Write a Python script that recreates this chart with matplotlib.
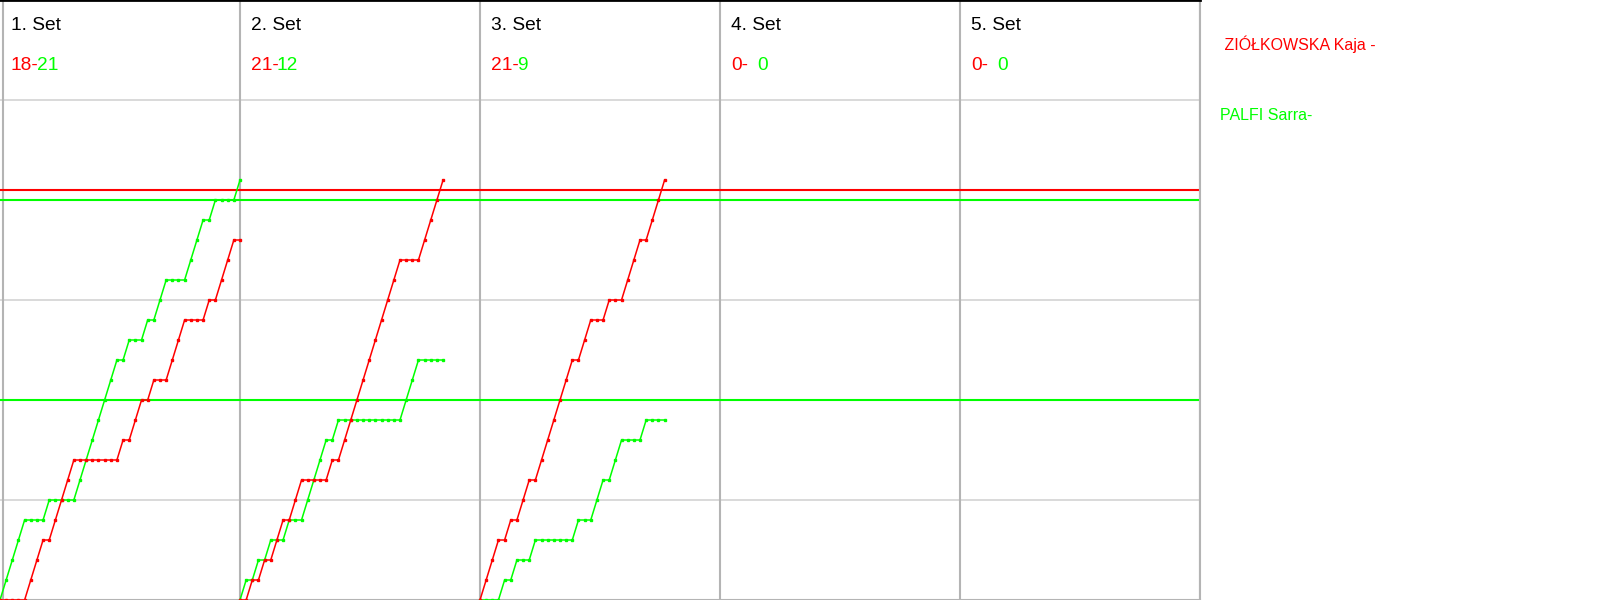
import numpy as np
import matplotlib
matplotlib.use("Agg")
import matplotlib.pyplot as plt

plt.rcParams['font.family'] = ['Liberation Sans', 'DejaVu Sans']

# ---- data ----
players = ["ZIÓŁKOWSKA Kaja", "PALFI Sarra"]
colors = ["#ff0000", "#00ff00"]
set_titles = ["1. Set", "2. Set", "3. Set", "4. Set", "5. Set"]
red_scores = [18, 21, 21, 0, 0]
green_scores = [21, 12, 9, 0, 0]
# rally winners per set (R = red player, G = green player)
set1_rallies = list("GGGGRRRGRRRRGGGGGGGRGRRGRGGRRRGGGRGRRRG")
set2_rallies = list("GRGRGRRGRRGGGGRGRRRRRRRRRRGGGRRRR")
set3_rallies = list("RRRGRGRRGRRRRRRGRRGGRGGRRRGRRR")
set4_rallies = []
set5_rallies = []
all_rallies = [set1_rallies, set2_rallies, set3_rallies, set4_rallies, set5_rallies]
rallies_per_panel = 39
red_target_line = 20.5
green_target_lines = [20, 10]

# ---- figure ----
W, H = 1600, 600
fig = plt.figure(figsize=(W / 100, H / 100), dpi=100)
ax = fig.add_axes([0, 0, 1200 / W, 1])
ax.set_xlim(0, rallies_per_panel * 5)
ax.set_ylim(0, 30)
ax.set_xticks([])
ax.set_yticks([])
ax.spines['left'].set_visible(False)
ax.spines['top'].set_color('black')
ax.spines['top'].set_linewidth(2)
ax.spines['bottom'].set_color('#b4b4b4')
ax.spines['bottom'].set_linewidth(1.5)
ax.spines['right'].set_color('#b4b4b4')
ax.spines['right'].set_linewidth(1.5)

# grid
for yv in [5, 10, 15, 20, 25]:
    ax.axhline(yv, color='#d3d3d3', lw=1.2, zorder=1)
ax.axvline(0.45, color='#b4b4b4', lw=1.5, zorder=1)
for k in range(1, 6):
    ax.axvline(k * rallies_per_panel, color='#b4b4b4', lw=1.5, zorder=1)

# target lines
ax.axhline(red_target_line, color=colors[0], lw=1.5, zorder=2)
for g in green_target_lines:
    ax.axhline(g, color=colors[1], lw=1.5, zorder=2)

# score progressions
for k, rallies in enumerate(all_rallies):
    if not rallies:
        continue
    r = np.array([1 if w == 'R' else 0 for w in rallies])
    g = 1 - r
    red_cum = np.concatenate([[0], np.cumsum(r)])
    green_cum = np.concatenate([[0], np.cumsum(g)])
    x = k * rallies_per_panel + np.arange(len(rallies) + 1)
    ax.plot(x, green_cum, color=colors[1], lw=1.1, marker='s', markersize=1.6,
            zorder=3)
    ax.plot(x, red_cum, color=colors[0], lw=1.1, marker='s', markersize=1.6,
            zorder=3)

# texts
fig.canvas.draw()
renderer = fig.canvas.get_renderer()
panel_px = 240
for k in range(5):
    x0 = (k * panel_px + 11) / W
    fig.text(x0, 1 - 30 / H, set_titles[k], fontsize=13.8, color='black',
             ha='left', va='baseline')
    t = fig.text(x0, 1 - 70 / H, f"{red_scores[k]}-", fontsize=13.8,
                 color=colors[0], ha='left', va='baseline')
    bb = t.get_window_extent(renderer=renderer)
    if green_scores[k] or red_scores[k]:
        gtxt = f"{green_scores[k]}"
        gx = bb.x1 - 2
    else:
        gtxt = f"{green_scores[k]}"
        gx = bb.x1 + 9
    fig.text(gx / W, 1 - 70 / H, gtxt, fontsize=13.8, color=colors[1],
             ha='left', va='baseline')

fig.text(1220 / W, 1 - 50 / H, f" {players[0]} -", fontsize=11.5,
         color=colors[0], ha='left', va='baseline')
fig.text(1220 / W, 1 - 120 / H, f"{players[1]}-", fontsize=11.5,
         color=colors[1], ha='left', va='baseline')

fig.savefig("out.png", dpi=100)
